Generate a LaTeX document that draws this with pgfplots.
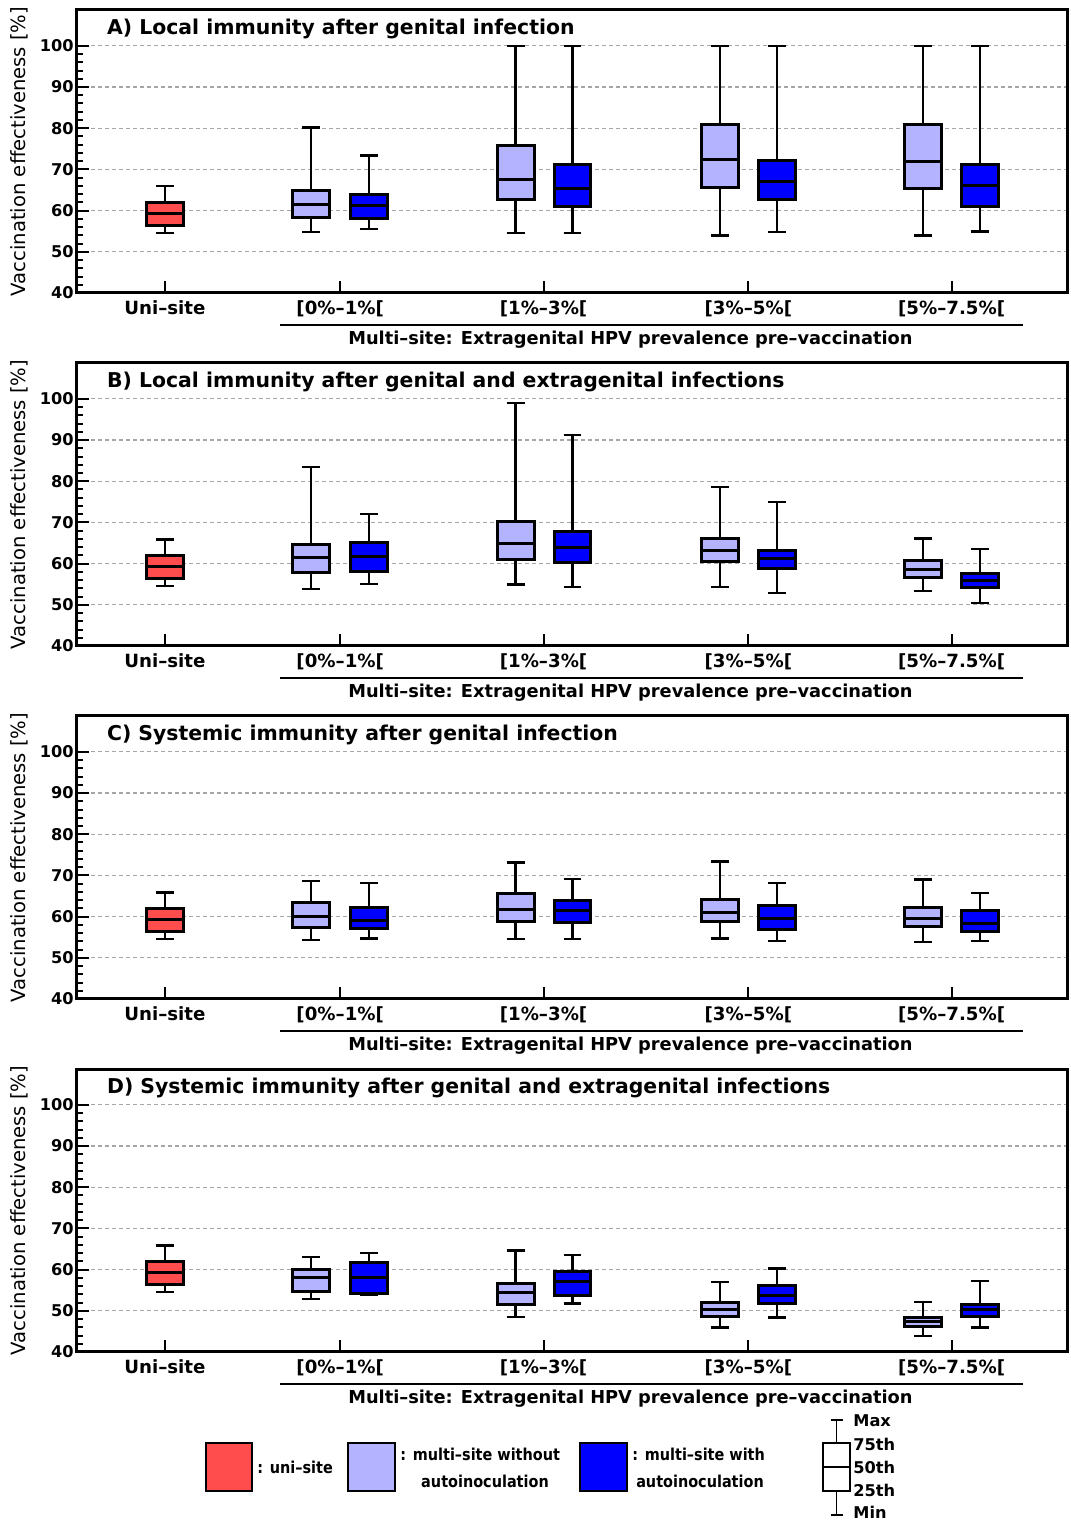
\documentclass[border=0pt]{standalone}
\usepackage{pgfplots}
\pgfplotsset{compat=1.18}
\usepgfplotslibrary{statistics}
\usepackage{fontspec}
\setmainfont{DejaVu Sans}
\newfontfamily\legfont{DejaVu Sans}[FakeStretch=0.88]
\definecolor{cuni}{HTML}{FF4D4D}
\definecolor{cwo}{HTML}{B3B3FF}
\definecolor{cwi}{HTML}{0000FF}

% draw position, min, q1, median, q3, max, colour
\newcommand{\bx}[7]{%
  \addplot[draw=black, fill=#7, solid,
    boxplot/draw direction=y,
    boxplot prepared={draw position=#1, lower whisker=#2, lower quartile=#3,
      median=#4, upper quartile=#5, upper whisker=#6, box extend=37, whisker extend=18},
    boxplot/every box/.style={line width=1.5pt},
    boxplot/every median/.style={line width=1.5pt},
    boxplot/every whisker/.style={line width=1.2pt},
  ] coordinates {};}

\tikzset{ttl/.style={anchor=base west, inner sep=0pt, font=\bfseries\fontsize{10.2}{12}\selectfont}}
\pgfplotsset{
  panel/.style={
    scale only axis, width=495pt, height=141.5pt, anchor=south west,
    xmin=77, xmax=1068, ymin=40, ymax=108.7,
    xtick={165,340.5,544,749,952.5},
    xticklabels={{Uni–site},{[0\%–1\%[},{[1\%–3\%[},{[3\%–5\%[},{[5\%–7.5\%[}},
    ytick={40,50,...,100}, minor y tick num=4,
    ytick pos=left, xtick pos=bottom, tick align=inside,
    major tick length=6pt, minor tick length=3pt,
    every tick/.style={black, line width=1pt},
    ymajorgrids, major grid style={gray!70, dash pattern=on 2pt off 1.5pt, line width=0.6pt},
    axis line style={line width=1.5pt},
    clip=false,
    /pgf/number format/assume math mode=true,
    yticklabel style={inner sep=1.5pt, font=\bfseries\fontsize{8.1}{10}\selectfont},
    xticklabel style={anchor=base, yshift=-11pt, font=\bfseries\fontsize{9.1}{10}\selectfont},
    ylabel={Vaccination effectiveness [\%]},
    ylabel style={font=\fontsize{9.8}{10}\selectfont, at={(axis description cs:-0.058,0.5)}, anchor=center},
  },
}
\newcommand{\multisite}{%
  \draw[line width=1pt] (axis cs:280,32.2) -- (axis cs:1024,32.2);
  \node[anchor=base, inner sep=0pt, font=\bfseries\fontsize{8.9}{10}\selectfont] at (axis cs:631,27.6) {Multi–site: Extragenital HPV prevalence pre–vaccination};}

\begin{document}
\begin{tikzpicture}
\useasboundingbox (0,0) rectangle (535.5pt,760.5pt);

% Panel A
\begin{axis}[panel, at={(38.5pt,614pt)}]
\bx{165}{54.5}{56.5}{59.4}{62.0}{65.9}{cuni}
\bx{311.5}{54.8}{58.4}{61.4}{65.0}{80.2}{cwo}
\bx{369.5}{55.5}{58.1}{61.3}{63.8}{73.4}{cwi}
\bx{516}{54.5}{62.6}{67.5}{75.7}{100}{cwo}
\bx{573}{54.6}{61.1}{65.3}{71.2}{100}{cwi}
\bx{720.5}{54.0}{65.6}{72.5}{80.9}{100}{cwo}
\bx{777.5}{54.8}{62.6}{67.0}{72.1}{100}{cwi}
\bx{924}{54.0}{65.3}{71.9}{80.9}{100}{cwo}
\bx{981}{54.9}{60.9}{66.1}{71.2}{100}{cwi}
\node[ttl] at (axis description cs:0.030,0.912) {A) Local immunity after genital infection};
\multisite
\end{axis}

% Panel B
\begin{axis}[panel, at={(38.5pt,437.5pt)}]
\bx{165}{54.5}{56.5}{59.4}{62.0}{65.9}{cuni}
\bx{311.5}{53.9}{57.8}{61.6}{64.7}{83.4}{cwo}
\bx{369.5}{55.1}{58.2}{61.7}{65.2}{72.1}{cwi}
\bx{516}{54.9}{61.0}{64.8}{70.1}{99.0}{cwo}
\bx{573}{54.3}{60.2}{63.9}{67.7}{91.2}{cwi}
\bx{720.5}{54.3}{60.4}{63.1}{66.2}{78.6}{cwo}
\bx{777.5}{52.9}{58.8}{61.3}{63.2}{75.0}{cwi}
\bx{924}{53.4}{56.7}{58.6}{60.8}{66.1}{cwo}
\bx{981}{50.5}{54.1}{55.8}{57.7}{63.6}{cwi}
\node[ttl] at (axis description cs:0.030,0.912) {B) Local immunity after genital and extragenital infections};
\multisite
\end{axis}

% Panel C
\begin{axis}[panel, at={(38.5pt,261pt)}]
\bx{165}{54.5}{56.5}{59.4}{62.0}{65.9}{cuni}
\bx{311.5}{54.3}{57.4}{60.0}{63.5}{68.7}{cwo}
\bx{369.5}{54.7}{57.0}{59.1}{62.1}{68.2}{cwi}
\bx{516}{54.6}{58.9}{61.8}{65.6}{73.1}{cwo}
\bx{573}{54.6}{58.5}{61.5}{64.0}{69.1}{cwi}
\bx{720.5}{54.7}{58.9}{61.1}{64.2}{73.4}{cwo}
\bx{777.5}{54.1}{56.9}{59.5}{62.6}{68.2}{cwi}
\bx{924}{53.8}{57.7}{59.5}{62.3}{69.0}{cwo}
\bx{981}{54.1}{56.3}{58.3}{61.4}{65.7}{cwi}
\node[ttl] at (axis description cs:0.030,0.912) {C) Systemic immunity after genital infection};
\multisite
\end{axis}

% Panel D
\begin{axis}[panel, at={(38.5pt,84.5pt)}]
\bx{165}{54.5}{56.5}{59.4}{62.0}{65.9}{cuni}
\bx{311.5}{52.8}{54.6}{58.2}{60.0}{63.0}{cwo}
\bx{369.5}{53.8}{54.2}{58.0}{61.7}{64.0}{cwi}
\bx{516}{48.5}{51.6}{54.5}{56.7}{64.6}{cwo}
\bx{573}{51.8}{53.8}{57.1}{59.6}{63.6}{cwi}
\bx{720.5}{45.9}{48.5}{50.3}{51.9}{57.0}{cwo}
\bx{777.5}{48.4}{51.7}{53.7}{56.2}{60.3}{cwi}
\bx{924}{43.9}{46.1}{47.3}{48.4}{52.1}{cwo}
\bx{981}{45.9}{48.6}{50.2}{51.6}{57.3}{cwi}
\node[ttl] at (axis description cs:0.030,0.912) {D) Systemic immunity after genital and extragenital infections};
\multisite
\end{axis}

% Legend
\begin{scope}[font=\legfont\bfseries\fontsize{8.2}{10}\selectfont]
\filldraw[fill=cuni, draw=black, line width=0.8pt] (103pt,15pt) rectangle (126pt,39pt);
\node[anchor=west, inner sep=0pt] at (128.5pt,27pt) {: uni–site};
\filldraw[fill=cwo, draw=black, line width=0.8pt] (174pt,15pt) rectangle (197.5pt,39pt);
\node[anchor=west, inner sep=0pt] at (200pt,33.5pt) {: multi–site without};
\node[anchor=center, inner sep=0pt] at (242.5pt,20pt) {autoinoculation};
\filldraw[fill=cwi, draw=black, line width=0.8pt] (290pt,15pt) rectangle (313.5pt,39pt);
\node[anchor=west, inner sep=0pt] at (316pt,33.5pt) {: multi–site with};
\node[anchor=center, inner sep=0pt] at (350pt,20pt) {autoinoculation};
% box key
\draw[line width=0.8pt] (418.25pt,39pt) -- (418.25pt,50.5pt) (415.25pt,50.5pt) -- (421.25pt,50.5pt);
\draw[line width=0.8pt] (418.25pt,15pt) -- (418.25pt,3pt) (415.25pt,3pt) -- (421.25pt,3pt);
\draw[line width=0.8pt, fill=white] (411.5pt,15pt) rectangle (425pt,39pt);
\draw[line width=0.8pt] (411.5pt,27pt) -- (425pt,27pt);
\begin{scope}[font=\bfseries\fontsize{8.1}{10}\selectfont]
\node[anchor=west, inner sep=0pt] at (426.5pt,50pt) {Max};
\node[anchor=west, inner sep=0pt] at (426.5pt,38.5pt) {75th};
\node[anchor=west, inner sep=0pt] at (426.5pt,27pt) {50th};
\node[anchor=west, inner sep=0pt] at (426.5pt,15.5pt) {25th};
\node[anchor=west, inner sep=0pt] at (426.5pt,4.5pt) {Min};
\end{scope}
\end{scope}
\end{tikzpicture}
\end{document}
